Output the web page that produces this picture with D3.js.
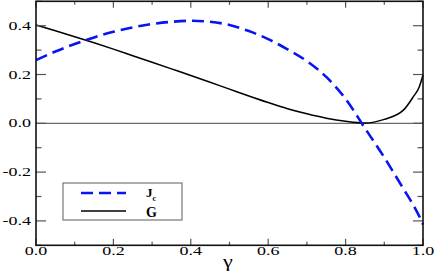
<!DOCTYPE html>
<html>
<head>
<meta charset="utf-8">
<script src="https://cdn.jsdelivr.net/npm/d3@7"></script>
<style>
  body { margin: 0; background: #fff; }
</style>
</head>
<body>
<div id="chart"></div>
<script>
// γ sample points (shared by both curves)
const gammaValues = [0, 0.05, 0.1, 0.15, 0.2, 0.25, 0.3, 0.35, 0.4, 0.45, 0.5, 0.55,
  0.6, 0.65, 0.7, 0.75, 0.8, 0.85, 0.9, 0.95, 0.975, 0.99, 1.0];
// J_c (blue dashed)
const jcValues = [0.259, 0.294, 0.325, 0.352, 0.375, 0.393, 0.407, 0.416, 0.420, 0.416,
  0.403, 0.378, 0.345, 0.303, 0.255, 0.190, 0.100, -0.020, -0.140, -0.270, -0.335, -0.380, -0.415];
// G (black solid)
const gValues = [0.403, 0.379, 0.355, 0.330, 0.304, 0.277, 0.250, 0.223, 0.196, 0.168,
  0.140, 0.112, 0.085, 0.060, 0.039, 0.021, 0.008, 0.001, 0.016, 0.055, 0.109, 0.148, 0.198];

const xTickLabels = [0, 0.2, 0.4, 0.6, 0.8, 1.0];
const yTickLabels = [-0.4, -0.2, 0.0, 0.2, 0.4];
const legendLabels = ["J", "G"];

const width = 436, height = 273;
const padLeft = 36, padRight = 423, padTop = 1.3, padBottom = 245.3;
const stretch = 1.5; // text in the picture is stretched horizontally

const svg = d3.select("#chart").append("svg")
  .attr("width", width).attr("height", height)
  .attr("font-family", "'Liberation Serif', 'Times New Roman', 'DejaVu Serif', serif");

const x = d3.scaleLinear().domain([0, 1]).range([padLeft, padRight]);
const y = d3.scaleLinear().domain([-0.5, 0.5]).range([padBottom, padTop]);

// zero line
svg.append("line")
  .attr("x1", padLeft).attr("x2", padRight)
  .attr("y1", y(0)).attr("y2", y(0))
  .attr("stroke", "#444").attr("stroke-width", 1);

const jcData = gammaValues.map((g, i) => ({ g, v: jcValues[i] }));
const gData = gammaValues.map((g, i) => ({ g, v: gValues[i] }));

const line = d3.line()
  .x((d) => x(d.g))
  .y((d) => y(d.v))
  .curve(d3.curveMonotoneX);

svg.append("path").datum(gData)
  .attr("fill", "none").attr("stroke", "#000").attr("stroke-width", 1.5)
  .attr("d", line);

svg.append("path").datum(jcData)
  .attr("fill", "none").attr("stroke", "#0a14f0").attr("stroke-width", 2.6)
  .attr("stroke-dasharray", "12,6")
  .attr("d", line);

// ticks, inward on all four sides
const tickColor = "#555";
d3.range(0, 1.0001, 0.1).forEach((t, i) => {
  const len = i % 2 === 0 ? 6.5 : 3.5;
  svg.append("line").attr("x1", x(t)).attr("x2", x(t))
    .attr("y1", padBottom).attr("y2", padBottom - len)
    .attr("stroke", tickColor).attr("stroke-width", 1.2);
  svg.append("line").attr("x1", x(t)).attr("x2", x(t))
    .attr("y1", padTop).attr("y2", padTop + len)
    .attr("stroke", tickColor).attr("stroke-width", 1.2);
});
d3.range(-0.5, 0.5001, 0.1).forEach((t) => {
  const major = Math.abs(Math.round(t * 10)) % 2 === 0;
  const len = major ? 10 : 5.5;
  svg.append("line").attr("x1", padLeft).attr("x2", padLeft + len)
    .attr("y1", y(t)).attr("y2", y(t))
    .attr("stroke", tickColor).attr("stroke-width", 1.2);
  svg.append("line").attr("x1", padRight).attr("x2", padRight - len)
    .attr("y1", y(t)).attr("y2", y(t))
    .attr("stroke", tickColor).attr("stroke-width", 1.2);
});

// frame
svg.append("rect")
  .attr("x", padLeft).attr("y", padTop)
  .attr("width", padRight - padLeft).attr("height", padBottom - padTop)
  .attr("fill", "none").attr("stroke", "#111").attr("stroke-width", 1.6);

// tick labels
xTickLabels.forEach((t) => {
  svg.append("text")
    .attr("transform", `translate(${x(t)},255) scale(${stretch},1)`)
    .attr("text-anchor", "middle")
    .style("font-size", "12px")
    .text(d3.format(".1f")(t));
});
yTickLabels.forEach((t) => {
  svg.append("text")
    .attr("transform", `translate(31,${y(t) + 4}) scale(${stretch},1)`)
    .attr("text-anchor", "end")
    .style("font-size", "12px")
    .text(d3.format(".1f")(t).replace("−", "-"));
});

// axis title
svg.append("text")
  .attr("transform", `translate(228,267) scale(1.3,1)`)
  .attr("text-anchor", "middle")
  .style("font-size", "17px")
  .text("γ");

// legend
svg.append("rect")
  .attr("x", 63).attr("y", 183).attr("width", 119).attr("height", 37)
  .attr("fill", "#fff").attr("stroke", "#777").attr("stroke-width", 1.2);

svg.append("line").attr("x1", 81).attr("x2", 126).attr("y1", 193).attr("y2", 193)
  .attr("stroke", "#0a14f0").attr("stroke-width", 2.6).attr("stroke-dasharray", "12,6");
svg.append("line").attr("x1", 81).attr("x2", 126).attr("y1", 211).attr("y2", 211)
  .attr("stroke", "#000").attr("stroke-width", 1.5);

const jLabel = svg.append("text")
  .attr("x", 146).attr("y", 197)
  .style("font-size", "13px").style("font-weight", "bold")
  .text(legendLabels[0]);
jLabel.append("tspan").attr("dy", 4).style("font-size", "8px").text("c");

svg.append("text")
  .attr("x", 146).attr("y", 216.5)
  .style("font-size", "14px").style("font-weight", "bold")
  .text(legendLabels[1]);
</script>
</body>
</html>
